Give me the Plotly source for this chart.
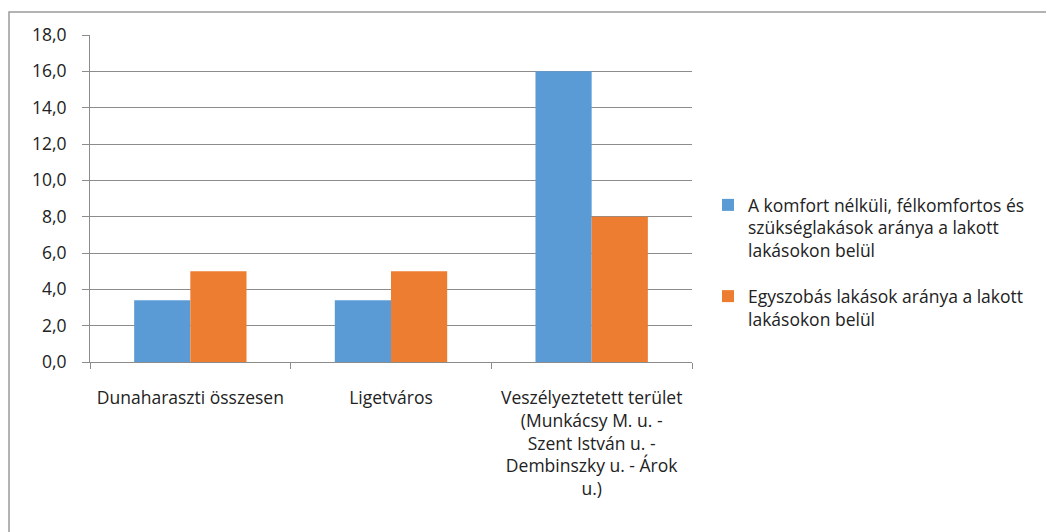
import plotly.graph_objects as go

categories = [
    "Dunaharaszti összesen",
    "Ligetváros",
    "Veszélyeztetett terület<br>(Munkácsy M. u. -<br>Szent István u. -<br>Dembinszky u. - Árok<br>u.)",
]
series1_name = "A komfort nélküli, félkomfortos és<br>szükséglakások aránya a lakott<br>lakásokon belül"
series1_values = [3.4, 3.4, 16.0]
series2_name = "Egyszobás lakások aránya a lakott<br>lakásokon belül"
series2_values = [5.0, 5.0, 8.0]
y_ticks = [0, 2, 4, 6, 8, 10, 12, 14, 16, 18]
y_tick_labels = ["0,0", "2,0", "4,0", "6,0", "8,0", "10,0", "12,0", "14,0", "16,0", "18,0"]

FONT = "Open Sans"
TXT = "#222222"
FS = 17.5

fig = go.Figure()
fig.add_trace(go.Bar(x=categories, y=series1_values, name=series1_name, legendgroup="g1",
                     marker=dict(color="#5B9BD5", line=dict(width=0))))
fig.add_trace(go.Bar(x=categories, y=series2_values, name=series2_name, legendgroup="g2",
                     marker=dict(color="#ED7D31", line=dict(width=0))))

# page body offset of 8px is accounted for below
OFF = 8
W, H = 1054, 532
L, R, T, B = 90 - OFF, 1054 - 692 + OFF, 35 - OFF, 532 - 362 + OFF
pw, ph = W - L - R, H - T - B

fig.update_layout(
    width=W, height=H,
    margin=dict(l=L, r=R, t=T, b=B, pad=0),
    paper_bgcolor="white", plot_bgcolor="white",
    barmode="group", bargap=0.44, bargroupgap=0,
    font=dict(family=FONT, size=FS, color=TXT),
    showlegend=True,
    legend=dict(x=(700 - L) / pw, xanchor="left", y=(362 - 187) / ph,
                yanchor="top", valign="top",
                font=dict(family=FONT, size=FS, color=TXT),
                itemwidth=30, tracegroupgap=20, traceorder="grouped",
                bgcolor="rgba(0,0,0,0)"),
    xaxis=dict(showline=True, linecolor="#8c8c8c", linewidth=1,
               ticks="outside", ticklen=6, tickcolor="#8c8c8c",
               tickson="boundaries", showgrid=False,
               tickfont=dict(family=FONT, size=FS, color=TXT),
               ticklabelstandoff=20),
    yaxis=dict(range=[0, 18], tickvals=y_ticks, ticktext=y_tick_labels,
               showline=True, linecolor="#8c8c8c", linewidth=1,
               ticks="outside", ticklen=7, tickcolor="#8c8c8c",
               showgrid=True, gridcolor="#8c8c8c", gridwidth=1,
               zeroline=False,
               tickfont=dict(family=FONT, size=FS, color=TXT),
               ticklabelstandoff=12),
    shapes=[dict(type="rect", xref="paper", yref="paper",
                 x0=(9 - OFF - L) / pw, x1=(W + 20 - L) / pw,
                 y0=-(H + 20 - T - ph) / ph, y1=(ph + T - (12 - OFF)) / ph,
                 line=dict(color="#9a9a9a", width=1.5), fillcolor="rgba(0,0,0,0)",
                 layer="below")],
)

fig.write_html("out.html")
